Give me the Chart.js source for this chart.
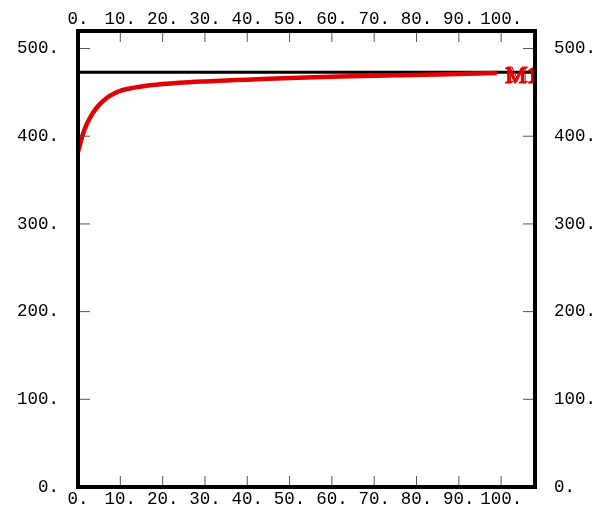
<!DOCTYPE html>
<html>
<head>
<meta charset="utf-8">
<script src="https://cdn.jsdelivr.net/npm/chart.js@4.4.1/dist/chart.umd.min.js"></script>
<style>
  html, body { margin: 0; padding: 0; background: #fff; }
  canvas { display: block; }
</style>
</head>
<body>
<canvas id="plot" width="601" height="511"></canvas>
<script>
// M1 curve
const curveX = [0, 0.5, 1, 2, 3.2, 4.4, 5.9, 7.5, 9.8, 12.2, 14.6, 20, 24, 30, 40, 52, 60, 70, 85, 99];
const curveY = [382, 391, 400, 413, 424, 432.5, 440, 446, 451.5, 454.5, 456.5, 459.5, 461, 462.5, 464.5, 466.8, 467.8, 469, 470.5, 472];
const seriesName = 'M1';

// flat reference level across the whole plot
const levelX = [0, 108];
const levelY = [473, 473];

// axis ticks
const xTickValues = [0, 10, 20, 30, 40, 50, 60, 70, 80, 90, 100];
const xTickLabels = ['0.', '10.', '20.', '30.', '40.', '50.', '60.', '70.', '80.', '90.', '100.'];
const yTickValues = [0, 100, 200, 300, 400, 500];
const yTickLabels = ['0.', '100.', '200.', '300.', '400.', '500.'];

const tickFont = { family: '"Liberation Mono", "DejaVu Sans Mono", monospace', size: 17.5 };

function xAxis(position, pad, size) {
  return {
    type: 'linear', axis: 'x', position: position, min: 0, max: 108,
    grid: { display: false, drawTicks: false },
    border: { display: false },
    afterBuildTicks: s => { s.ticks = xTickValues.map(v => ({ value: v })); },
    afterFit: s => {
      s.height = size;
      s.paddingLeft = 0; s.paddingRight = 0;
    },
    ticks: {
      autoSkip: false, maxRotation: 0, minRotation: 0, padding: pad,
      color: '#000', font: tickFont,
      callback: v => xTickLabels[xTickValues.indexOf(v)]
    }
  };
}

function yAxis(position, size) {
  return {
    type: 'linear', axis: 'y', position: position, min: 0, max: 520,
    grid: { display: false, drawTicks: false },
    border: { display: false },
    afterBuildTicks: s => { s.ticks = yTickValues.map(v => ({ value: v })); },
    afterFit: s => {
      s.width = size;
      s.paddingTop = 0; s.paddingBottom = 0;
    },
    ticks: {
      autoSkip: false, padding: 19,
      color: '#000', font: tickFont,
      callback: v => yTickLabels[yTickValues.indexOf(v)]
    }
  };
}

// box, inward tick marks and the series name
const framePlugin = {
  id: 'frame',
  afterDatasetsDraw(chart) {
    const { ctx, chartArea: a, scales } = chart;
    const sx = scales.x, sy = scales.y;
    const n = curveX.length - 1;

    ctx.save();
    ctx.beginPath();
    ctx.rect(a.left, a.top, a.right - a.left, a.bottom - a.top);
    ctx.clip();
    const lx = sx.getPixelForValue(curveX[n]) + 8;
    const ly = sy.getPixelForValue(curveY[n]) + 10;
    ctx.font = '24px "Liberation Serif", "DejaVu Serif", serif';
    ctx.textBaseline = 'alphabetic';
    ctx.fillStyle = 'rgb(228,0,0)';
    ctx.strokeStyle = 'rgb(228,0,0)';
    ctx.lineWidth = 1;
    ctx.fillText(seriesName, lx, ly);
    ctx.strokeText(seriesName, lx, ly);
    ctx.strokeText(seriesName, lx + 1.5, ly - 1.5);
    ctx.restore();

    ctx.save();
    ctx.strokeStyle = '#555';
    ctx.lineWidth = 1;
    ctx.beginPath();
    xTickValues.forEach(v => {
      const px = sx.getPixelForValue(v);
      ctx.moveTo(px, a.top); ctx.lineTo(px, a.top + 11);
      ctx.moveTo(px, a.bottom); ctx.lineTo(px, a.bottom - 11);
    });
    yTickValues.forEach(v => {
      const py = sy.getPixelForValue(v);
      ctx.moveTo(a.left, py); ctx.lineTo(a.left + 12, py);
      ctx.moveTo(a.right, py); ctx.lineTo(a.right - 12, py);
    });
    ctx.stroke();

    ctx.strokeStyle = '#000';
    ctx.lineWidth = 4;
    ctx.strokeRect(a.left, a.top, a.right - a.left, a.bottom - a.top);
    ctx.restore();
  }
};

new Chart(document.getElementById('plot'), {
  type: 'line',
  data: {
    datasets: [
      {
        label: seriesName,
        data: curveX.map((x, i) => ({ x: x, y: curveY[i] })),
        borderColor: 'rgb(228,0,0)',
        borderWidth: 4.5,
        pointRadius: 0,
        cubicInterpolationMode: 'monotone',
        order: 1
      },
      {
        label: 'level',
        data: levelX.map((x, i) => ({ x: x, y: levelY[i] })),
        borderColor: '#000',
        borderWidth: 3,
        pointRadius: 0,
        order: 2
      }
    ]
  },
  options: {
    responsive: false,
    animation: false,
    layout: { padding: 0 },
    plugins: { legend: { display: false }, tooltip: { enabled: false } },
    scales: {
      x: xAxis('bottom', 2, 24),
      x2: xAxis('top', 1, 31),
      y: yAxis('left', 78),
      y2: yAxis('right', 66)
    }
  },
  plugins: [framePlugin]
});
</script>
</body>
</html>
